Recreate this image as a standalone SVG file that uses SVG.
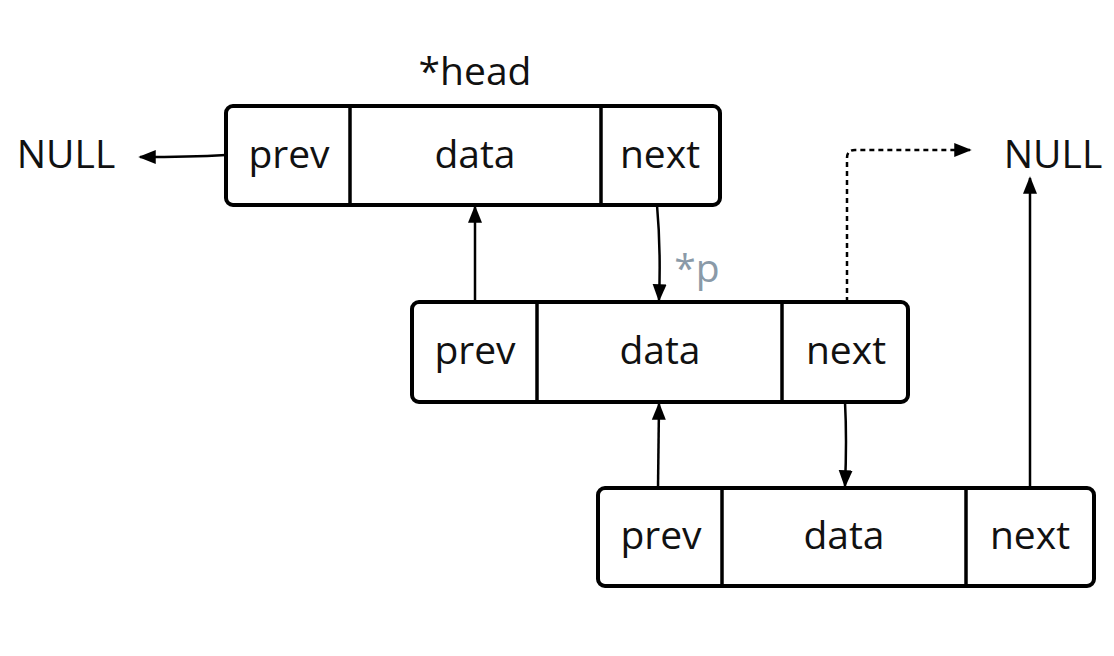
<svg xmlns="http://www.w3.org/2000/svg" width="1114" height="656" viewBox="0 0 1114 656">
<defs>
<style>
.box{fill:#fff;stroke:#000;stroke-width:4;}
.div{stroke:#000;stroke-width:3.5;fill:none;}
.t{font-family:"Open Sans","Noto Sans",sans-serif;font-size:39px;fill:#111;text-anchor:middle;}
.ln{stroke:#000;stroke-width:2.5;fill:none;}
.dash{stroke:#000;stroke-width:2.5;fill:none;stroke-dasharray:5 4;}
</style>
<marker id="ahs" viewBox="0 0 10 10" refX="9" refY="5" markerWidth="7" markerHeight="7" orient="auto">
<path d="M0,1 L10,5 L0,9 Z" fill="#000"/>
</marker>
</defs>
<rect width="1114" height="656" fill="#fff"/>

<g id="connectors">
<path class="ln" d="M226,155 Q190,157 140,157" marker-end="url(#ahs)"/>
<path class="ln" d="M475,302 L475,207" marker-end="url(#ahs)"/>
<path class="ln" d="M657,205 Q661,250 659,300" marker-end="url(#ahs)"/>
<path class="dash" d="M847,302 L847,158 Q847,150 855,150 L970,150" marker-end="url(#ahs)"/>
<path class="ln" d="M1030,488 L1030,178" marker-end="url(#ahs)"/>
<path class="ln" d="M845,402 Q847,440 845,486" marker-end="url(#ahs)"/>
<path class="ln" d="M658,488 L659,404" marker-end="url(#ahs)"/>
</g>

<g id="head-label"><text class="t" x="475" y="85">*head</text></g>
<g id="p-label"><text class="t" x="697" y="282" style="fill:#8a9aa8">*p</text></g>
<g id="null-left"><text class="t" x="66" y="168">NULL</text></g>
<g id="null-right"><text class="t" x="1053" y="168">NULL</text></g>

<g id="node1">
<rect class="box" x="226" y="106" width="494" height="99" rx="7"/>
<line class="div" x1="350" y1="106" x2="350" y2="205"/>
<line class="div" x1="601" y1="106" x2="601" y2="205"/>
<text class="t" x="289" y="168">prev</text>
<text class="t" x="475" y="168">data</text>
<text class="t" x="660" y="168">next</text>
</g>

<g id="node2">
<rect class="box" x="412" y="302" width="496" height="100" rx="7"/>
<line class="div" x1="537" y1="302" x2="537" y2="402"/>
<line class="div" x1="782" y1="302" x2="782" y2="402"/>
<text class="t" x="475" y="364">prev</text>
<text class="t" x="660" y="364">data</text>
<text class="t" x="846" y="364">next</text>
</g>

<g id="node3">
<rect class="box" x="598" y="488" width="496" height="98" rx="7"/>
<line class="div" x1="722" y1="488" x2="722" y2="586"/>
<line class="div" x1="966" y1="488" x2="966" y2="586"/>
<text class="t" x="661" y="549">prev</text>
<text class="t" x="844" y="549">data</text>
<text class="t" x="1030" y="549">next</text>
</g>
</svg>
